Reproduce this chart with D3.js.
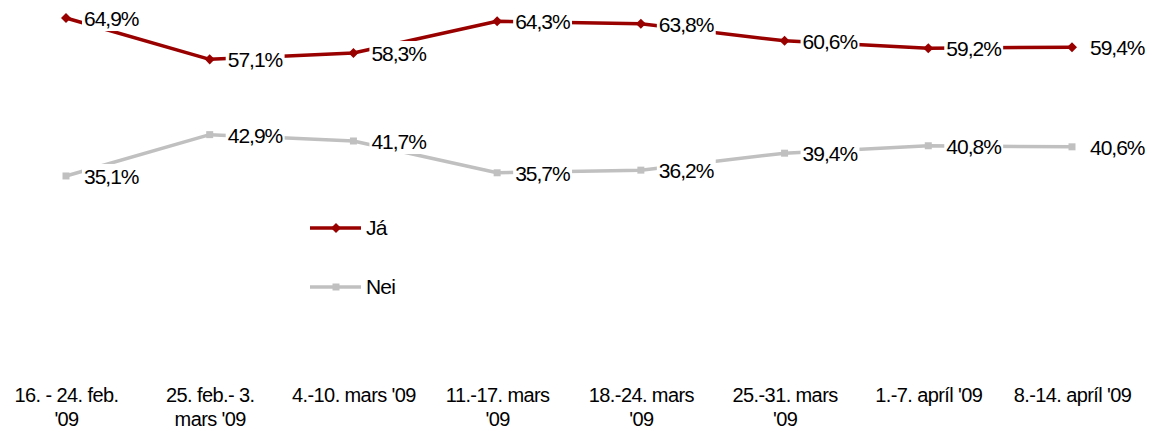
<!DOCTYPE html>
<html>
<head>
<meta charset="utf-8">
<script src="https://cdn.jsdelivr.net/npm/d3@7"></script>
<style>
  html, body { margin: 0; padding: 0; background: #fff; }
  svg { display: block; font-family: "Liberation Sans", Arial, sans-serif; }
</style>
</head>
<body>
<svg id="chart" width="1160" height="433"></svg>
<script>
// ---- data ----
const categories = [
  "16. - 24. feb.\n'09",
  "25. feb.- 3.\nmars '09",
  "4.-10. mars '09",
  "11.-17. mars\n'09",
  "18.-24. mars\n'09",
  "25.-31. mars\n'09",
  "1.-7. apríl '09",
  "8.-14. apríl '09"
];
const seriesNames = ["Já", "Nei"];
const jaValues  = [64.9, 57.1, 58.3, 64.3, 63.8, 60.6, 59.2, 59.4];
const neiValues = [35.1, 42.9, 41.7, 35.7, 36.2, 39.4, 40.8, 40.6];
const seriesColors = ["#990000", "#c0c0c0"];

const series = [
  { name: seriesNames[0], values: jaValues,  color: seriesColors[0], marker: d3.symbolDiamond2, msize: 64 },
  { name: seriesNames[1], values: neiValues, color: seriesColors[1], marker: d3.symbolSquare,   msize: 49 }
];

const svg = d3.select("#chart");

const x = d3.scalePoint().domain(categories).range([66, 1072]);
const y = d3.scaleLinear().domain([0, 70]).range([362, -9]);

const fmt = v => d3.format(".1f")(v).replace(".", ",") + "%";

// lines
const line = d3.line()
  .x((d, i) => x(categories[i]))
  .y(d => y(d));

series.forEach(s => {
  svg.append("path")
    .datum(s.values)
    .attr("fill", "none")
    .attr("stroke", s.color)
    .attr("stroke-width", 3.5)
    .attr("stroke-linejoin", "round")
    .attr("d", line);
});

// markers
series.forEach(s => {
  svg.append("g").selectAll("path")
    .data(s.values)
    .join("path")
    .attr("d", d3.symbol().type(s.marker).size(s.msize))
    .attr("transform", (d, i) => `translate(${x(categories[i])},${y(d)})`)
    .attr("fill", s.color);
});

// data labels with white background
series.forEach(s => {
  const g = svg.append("g");
  s.values.forEach((v, i) => {
    const lg = g.append("g");
    const t = lg.append("text")
      .attr("x", x(categories[i]) + 18)
      .attr("y", y(v) + 8)
      .attr("font-size", 21)
      .attr("letter-spacing", "-1px")
      .attr("fill", "#000")
      .text(fmt(v));
    const bb = t.node().getBBox();
    lg.insert("rect", "text")
      .attr("x", bb.x - 2)
      .attr("y", bb.y - 1)
      .attr("width", bb.width + 4)
      .attr("height", bb.height + 2)
      .attr("fill", "#fff");
  });
});

// x axis labels (no axis line)
const xAxis = d3.axisBottom(x).tickSize(0).tickFormat(() => "");
const axisG = svg.append("g").attr("transform", "translate(0,380)").call(xAxis);
axisG.select(".domain").remove();
axisG.selectAll(".tick").each(function(d) {
  const lines = d.split("\n");
  const t = d3.select(this).append("text")
    .attr("text-anchor", "middle")
    .attr("font-size", 20)
    .attr("letter-spacing", "-0.6px")
    .attr("fill", "#000");
  lines.forEach((ln, k) => {
    t.append("tspan").attr("x", 0).attr("y", 22 + k * 24).text(ln);
  });
});

// legend
const legend = svg.append("g").attr("transform", "translate(310,228)");
series.forEach((s, k) => {
  const row = legend.append("g").attr("transform", `translate(0,${k * 59})`);
  row.append("line")
    .attr("x1", 0).attr("x2", 51).attr("y1", 0).attr("y2", 0)
    .attr("stroke", s.color).attr("stroke-width", 3.5);
  row.append("path")
    .attr("d", d3.symbol().type(s.marker).size(s.msize))
    .attr("transform", "translate(26,0)")
    .attr("fill", s.color);
  row.append("text")
    .attr("x", 56).attr("y", 7)
    .attr("font-size", 21)
    .attr("letter-spacing", "-0.8px")
    .attr("fill", "#000")
    .text(s.name);
});
</script>
</body>
</html>
